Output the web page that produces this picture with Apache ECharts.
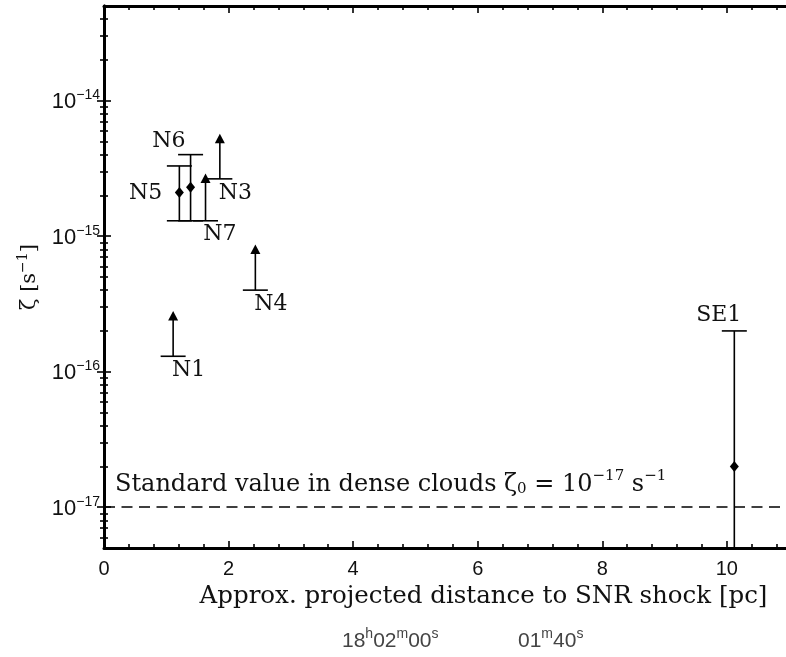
<!DOCTYPE html>
<html><head><meta charset="utf-8">
<script src="https://cdn.jsdelivr.net/npm/echarts@6/dist/echarts.min.js"></script>
<style>html,body{margin:0;padding:0;background:#fff}#c{width:786px;height:657px}</style>
</head><body><div id="c"></div>
<script>
// ---- data ----
// detections with error bars
const detNames = ['N5', 'N6', 'SE1'];
const detDist = [1.21, 1.39, 10.12];
const detZeta = [2.1e-15, 2.3e-15, 2.0e-17];
const detUpper = [3.3e-15, 4.0e-15, 2.0e-16];
const detLower = [1.3e-15, 1.3e-15, 1.0e-18];
// lower limits (bar + upward arrow)
const limNames = ['N1', 'N3', 'N4', 'N7'];
const limDist = [1.11, 1.86, 2.43, 1.63];
const limZeta = [1.3e-16, 2.65e-15, 4.0e-16, 1.3e-15];
const limArrowTip = [2.8e-16, 5.7e-15, 8.7e-16, 2.9e-15];
// point labels
const labelText = ['N1', 'N3', 'N4', 'N5', 'N6', 'N7', 'SE1'];
const labelDist = [1.36, 2.11, 2.68, 0.67, 1.04, 1.86, 9.87];
const labelZeta = [1.03e-16, 2.08e-15, 3.16e-16, 2.08e-15, 5.04e-15, 1.04e-15, 2.62e-16];
// standard value
const standardZeta = 1e-17;
// axes
const xTickValues = [0, 2, 4, 6, 8, 10];
const xMin = 0, xMax = 11.03;
const yTickExponents = [-17, -16, -15, -14];
const yMinZeta = 5e-18, yMaxZeta = 5e-14;
const raLabels = [['18', 'h', '02', 'm', '00', 's'], ['01', 'm', '40', 's']];

// ---- derived axis helpers ----
const xMinorTickValues = [];
for (let i = 1; i * 0.4 < xMax; i++) {
  const v = Math.round(i * 4) / 10;
  if (Math.abs(v / 2 - Math.round(v / 2)) > 1e-6) xMinorTickValues.push(v);
}
const yMin = Math.log10(yMinZeta), yMax = Math.log10(yMaxZeta);
const yMinorTickValues = [];
for (let n = -18; n <= -14; n++) {
  for (let k = 2; k <= 9; k++) {
    const v = n + Math.log10(k);
    if (v > yMin && v < yMax) yMinorTickValues.push(v);
  }
}

const INK = '#111';
const SERIF = 'DejaVu Serif';
const SANS = 'Liberation Sans';
const LW = 1.6, CAP = 12.5;

function renderDetection(params, api) {
  const x = api.value(0);
  const p = api.coord([x, api.value(1)]);
  const up = api.coord([x, api.value(2)]);
  const lo = api.coord([x, api.value(3)]);
  const st = { stroke: '#000', lineWidth: LW };
  return { type: 'group', children: [
    { type: 'line', shape: { x1: p[0], y1: lo[1], x2: p[0], y2: up[1] }, style: st },
    { type: 'line', shape: { x1: p[0] - CAP, y1: up[1], x2: p[0] + CAP, y2: up[1] }, style: st },
    { type: 'line', shape: { x1: p[0] - CAP, y1: lo[1], x2: p[0] + CAP, y2: lo[1] }, style: st },
    { type: 'polygon', shape: { points: [[p[0], p[1] - 5.5], [p[0] + 4.5, p[1]], [p[0], p[1] + 5.5], [p[0] - 4.5, p[1]]] }, style: { fill: '#000' } }
  ]};
}
function renderLimit(params, api) {
  const x = api.value(0);
  const p = api.coord([x, api.value(1)]);
  const tip = api.coord([x, api.value(2)]);
  const st = { stroke: '#000', lineWidth: LW };
  return { type: 'group', children: [
    { type: 'line', shape: { x1: p[0] - CAP, y1: p[1], x2: p[0] + CAP, y2: p[1] }, style: st },
    { type: 'line', shape: { x1: p[0], y1: p[1], x2: p[0], y2: tip[1] + 7 }, style: st },
    { type: 'polygon', shape: { points: [[p[0], tip[1]], [p[0] + 5, tip[1] + 9.5], [p[0] - 5, tip[1] + 9.5]] }, style: { fill: '#000' } }
  ]};
}

const gridBox = { left: 104, right: -5, top: 6, bottom: 109, containLabel: false, outerBoundsMode: 'none' };
const axisLineStyle = { show: true, lineStyle: { color: '#000', width: 3 } };

function majorX(pos, showLabel) {
  return {
    type: 'value', gridIndex: 0, position: pos, min: xMin, max: xMax,
    axisLine: axisLineStyle, splitLine: { show: false },
    axisTick: { show: true, inside: true, length: 7, lineStyle: { color: '#000', width: 1.6 }, customValues: xTickValues },
    axisLabel: showLabel ? { show: true, customValues: xTickValues, fontFamily: SANS, fontSize: 20, color: INK, margin: 11 } : { show: false },
    name: showLabel ? 'Approx. projected distance to SNR shock [pc]' : '',
    nameLocation: 'middle', nameGap: 28,
    nameTextStyle: { fontFamily: SERIF, fontSize: 24.5, color: INK, padding: [0, 0, 0, 72] }
  };
}
function minorX(pos) {
  return {
    type: 'value', gridIndex: 1, position: pos, min: xMin, max: xMax,
    axisLine: { show: false }, splitLine: { show: false }, axisLabel: { show: false },
    axisTick: { show: true, inside: true, length: 4, lineStyle: { color: '#000', width: 1.6 }, customValues: xMinorTickValues }
  };
}
const supRich = {
  b: { fontFamily: SANS, fontSize: 22, color: INK, lineHeight: 25, verticalAlign: 'bottom' },
  s: { fontFamily: SANS, fontSize: 14, color: INK, lineHeight: 14, verticalAlign: 'top' }
};
function majorY(pos, showLabel) {
  return {
    type: 'value', gridIndex: 0, position: pos, min: yMin, max: yMax,
    axisLine: axisLineStyle, splitLine: { show: false },
    axisTick: { show: true, inside: true, length: 7, lineStyle: { color: '#000', width: 1.6 }, customValues: yTickExponents },
    axisLabel: showLabel ? {
      show: true, customValues: yTickExponents, margin: 4,
      formatter: v => '{b|10}{s|\u2212' + Math.round(Math.abs(v)) + '}',
      rich: supRich
    } : { show: false },
    name: showLabel ? '{z|\u03b6 [s}{s|\u22121}{z|]}' : '',
    nameLocation: 'middle', nameRotate: 90, nameGap: 64,
    nameTextStyle: { rich: {
      z: { fontFamily: SERIF, fontSize: 21, color: INK, lineHeight: 24, verticalAlign: 'bottom' },
      s: { fontFamily: SERIF, fontSize: 14, color: INK, lineHeight: 14, verticalAlign: 'top' }
    } }
  };
}
function minorY(pos) {
  return {
    type: 'value', gridIndex: 1, position: pos, min: yMin, max: yMax,
    axisLine: { show: false }, splitLine: { show: false }, axisLabel: { show: false },
    axisTick: { show: true, inside: true, length: 4, lineStyle: { color: '#000', width: 1.6 }, customValues: yMinorTickValues }
  };
}

function raText(parts) {
  let s = '';
  parts.forEach((p, i) => { s += (i % 2 === 0 ? '{b|' : '{s|') + p + '}'; });
  return s;
}
const raRich = {
  b: { fontFamily: SANS, fontSize: 21, fill: '#444', lineHeight: 25, verticalAlign: 'bottom' },
  s: { fontFamily: SANS, fontSize: 14, fill: '#444', lineHeight: 14, verticalAlign: 'top' }
};

const chart = echarts.init(document.getElementById('c'), null, { renderer: 'canvas' });
chart.setOption({
  animation: false,
  backgroundColor: '#fff',
  grid: [Object.assign({}, gridBox), Object.assign({}, gridBox)],
  xAxis: [majorX('bottom', true), majorX('top', false), minorX('bottom'), minorX('top')],
  yAxis: [majorY('left', true), majorY('right', false), minorY('left'), minorY('right')],
  series: [
    {
      type: 'custom', xAxisIndex: 0, yAxisIndex: 0, clip: true, silent: true,
      renderItem: renderDetection,
      encode: { x: 0, y: 1 },
      data: detDist.map((d, i) => ({ name: detNames[i], value: [d, Math.log10(detZeta[i]), Math.log10(detUpper[i]), Math.log10(detLower[i])] })),
      markLine: {
        silent: true, symbol: 'none', label: { show: false },
        lineStyle: { color: '#000', width: 1.6, type: [11, 6.5] },
        data: [{ yAxis: Math.log10(standardZeta) }]
      }
    },
    {
      type: 'custom', xAxisIndex: 0, yAxisIndex: 0, clip: true, silent: true,
      renderItem: renderLimit,
      encode: { x: 0, y: 1 },
      data: limDist.map((d, i) => ({ name: limNames[i], value: [d, Math.log10(limZeta[i]), Math.log10(limArrowTip[i])] }))
    },
    {
      type: 'scatter', xAxisIndex: 0, yAxisIndex: 0, silent: true,
      symbol: 'circle', symbolSize: 0, itemStyle: { color: '#fff', opacity: 1 },
      label: { show: true, position: [0, 0], align: 'center', verticalAlign: 'middle', formatter: '{b}', fontFamily: SERIF, fontSize: 22, color: INK, opacity: 1, textBorderWidth: 0 },
      data: labelText.map((t, i) => ({ name: t, value: [labelDist[i], Math.log10(labelZeta[i])] }))
    }
  ],
  graphic: [
    {
      type: 'text', left: 115, top: 469, silent: true,
      style: {
        text: '{n|Standard value in dense clouds \u03b6}{sub|0}{n| = 10}{sup|\u221217}{n| s}{sup|\u22121}',
        rich: {
          n: { fontFamily: SERIF, fontSize: 24, fill: INK, lineHeight: 28, verticalAlign: 'bottom' },
          sub: { fontFamily: SERIF, fontSize: 15, fill: INK, lineHeight: 15, verticalAlign: 'bottom' },
          sup: { fontFamily: SERIF, fontSize: 15, fill: INK, lineHeight: 15, verticalAlign: 'top' }
        }
      }
    },
    { type: 'text', left: 342, top: 627, silent: true, style: { text: raText(raLabels[0]), rich: raRich } },
    { type: 'text', left: 518, top: 627, silent: true, style: { text: raText(raLabels[1]), rich: raRich } }
  ]
});
</script>
</body></html>
